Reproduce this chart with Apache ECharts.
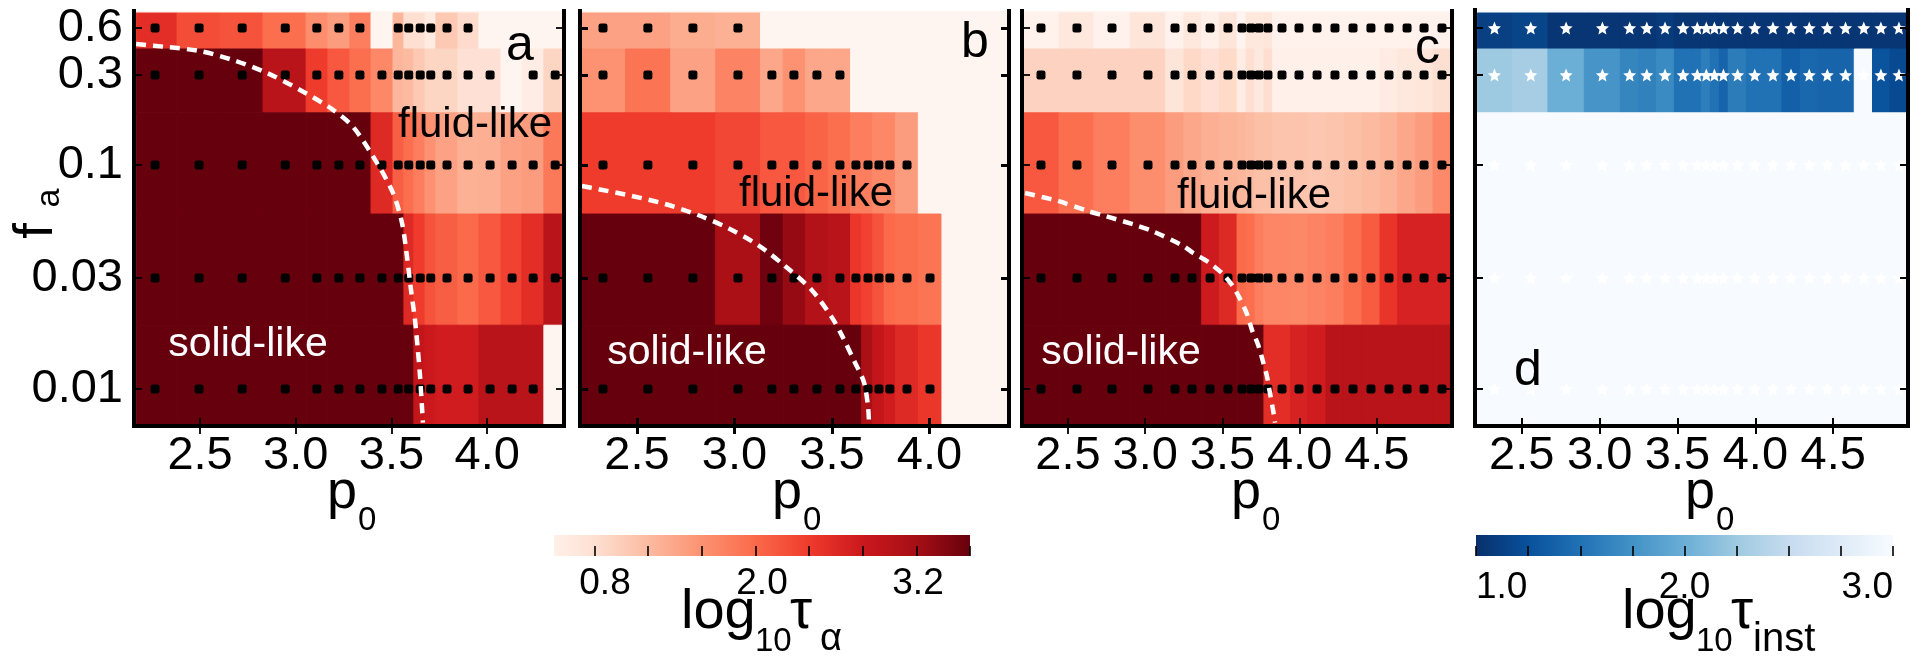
<!DOCTYPE html>
<html lang="en">
<head>
    <meta charset="UTF-8">
    <script src="https://cdn.jsdelivr.net/npm/echarts@6/dist/echarts.min.js"></script>
    <title>tau phase maps</title>
</head>
<style>
    body{
        margin: 0;
        padding: 0;
        background: #fff;
    }
</style>
<body>
<div id="main" style="width: 1924px;height:657px;"></div>
</body>
<script>
    var FONT = '"Liberation Sans"';

    // rows, top to bottom
    var faRows = [0.6, 0.3, 0.1, 0.03, 0.01];
    var faEdges = [0.75, 0.44, 0.189, 0.0593, 0.0188, 0.0071];
    var faTickLabels = ['0.6', '0.3', '0.1', '0.03', '0.01'];

    // fa axis is not a clean log scale in the figure, so it is warped piecewise
    var faScale = [0.0071, 0.01, 0.03, 0.1, 0.3, 0.6, 0.75];
    var faScalePos = [2, 37, 148, 261, 351, 398, 413];

    // panel a
    var p0EdgesA = [2.166, 2.38, 2.604, 2.829, 3.054, 3.168, 3.283, 3.393, 3.508, 3.565, 3.617, 3.675, 3.732, 3.847, 3.957, 4.072, 4.181, 4.296, 4.39];
    var p0DotsA = [2.265, 2.495, 2.72, 2.945, 3.11, 3.225, 3.335, 3.45, 3.535, 3.59, 3.65, 3.705, 3.79, 3.9, 4.015, 4.13, 4.24, 4.355];
    var tauA = [
        [2.55, 2.25, 2.2, 1.95, 1.65, 1.5, 1.8, 0.4, 1.25, 0.8, 0.8, 0.6, 1.05, 0.85, 0.4, 0.4, 0.4, 0.4],
        [3.6, 3.6, 3.6, 3.0, 2.4, 2.15, 1.95, 1.7, 1.25, 1.2, 1.05, 0.92, 0.92, 0.78, 0.78, 0.4, 0.55, 0.92],
        [3.6, 3.6, 3.6, 3.6, 3.6, 3.6, 3.6, 2.6, 2.1, 1.95, 1.8, 1.6, 1.45, 1.3, 1.32, 1.45, 1.5, 1.85],
        [3.6, 3.6, 3.6, 3.6, 3.6, 3.6, 3.6, 3.6, 3.6, 2.6, 2.4, 2.2, 2.1, 2.0, 2.15, 2.35, 2.55, 3.0],
        [3.6, 3.6, 3.6, 3.6, 3.6, 3.6, 3.6, 3.6, 3.6, 3.6, 2.9, 2.8, 2.75, 2.75, 3.0, 3.0, 3.0, 0.4]
    ];
    var boundaryP0A = [2.166, 2.328, 2.5, 2.672, 2.85, 3.022, 3.195, 3.3, 3.424, 3.508, 3.555, 3.581, 3.602, 3.623, 3.638, 3.649, 3.664];
    var boundaryFaA = [0.474, 0.453, 0.427, 0.374, 0.309, 0.25, 0.196, 0.159, 0.1026, 0.0742, 0.0539, 0.0376, 0.0266, 0.0197, 0.0146, 0.0114, 0.0072];

    // panel b
    var p0EdgesB = [2.216, 2.442, 2.673, 2.904, 3.134, 3.25, 3.365, 3.481, 3.596, 3.652, 3.71, 3.768, 3.827, 3.943, 4.059];
    var p0DotsB = [2.326, 2.556, 2.787, 3.018, 3.192, 3.305, 3.423, 3.541, 3.623, 3.685, 3.741, 3.797, 3.885, 4.003];
    var tauB = [
        [1.45, 1.45, 1.35, 1.3, 0.4, 0.4, 0.4, 0.4, 0.4, 0.4, 0.4, 0.4, 0.4, 0.4],
        [1.6, 1.9, 1.45, 1.75, 1.4, 1.6, 1.4, 1.4, 0.4, 0.4, 0.4, 0.4, 0.4, 0.4],
        [2.4, 2.4, 2.4, 2.3, 2.15, 2.15, 2.05, 1.95, 1.8, 1.8, 1.7, 1.7, 1.5, 0.4],
        [3.6, 3.6, 3.6, 3.15, 3.55, 3.3, 3.05, 3.0, 2.45, 2.35, 2.2, 2.0, 1.95, 1.9],
        [3.6, 3.6, 3.6, 3.6, 3.6, 3.6, 3.6, 3.6, 3.6, 3.15, 2.9, 2.75, 2.6, 2.45]
    ];
    var boundaryP0B = [2.218, 2.3, 2.474, 2.644, 2.813, 2.967, 3.121, 3.259, 3.397, 3.5, 3.551, 3.618, 3.664, 3.685, 3.69];
    var boundaryFaB = [0.0799, 0.0774, 0.0719, 0.066, 0.0587, 0.0511, 0.0426, 0.0341, 0.0266, 0.0203, 0.017, 0.013, 0.0107, 0.00844, 0.0072];

    // panel c, panel d sits on the same p0 grid
    var p0EdgesC = [2.215, 2.442, 2.668, 2.902, 3.133, 3.251, 3.366, 3.48, 3.595, 3.653, 3.711, 3.769, 3.826, 3.942, 4.054, 4.171, 4.288, 4.404, 4.521, 4.635, 4.752, 4.864, 4.974];
    var p0DotsC = [2.325, 2.558, 2.785, 3.018, 3.193, 3.303, 3.42, 3.536, 3.627, 3.685, 3.737, 3.795, 3.886, 3.996, 4.113, 4.229, 4.346, 4.462, 4.579, 4.696, 4.806, 4.922];
    var tauC = [
        [0.45, 0.65, 0.45, 0.7, 0.45, 0.65, 0.5, 0.7, 0.42, 0.65, 0.65, 0.68, 0.45, 0.45, 0.45, 0.45, 0.45, 0.45, 0.45, 0.45, 0.45, 0.45],
        [0.95, 0.95, 0.95, 0.95, 0.7, 0.88, 0.78, 0.87, 0.55, 0.8, 0.62, 0.82, 0.5, 0.5, 0.5, 0.5, 0.5, 0.5, 0.6, 0.65, 0.68, 0.8],
        [2.15, 1.95, 1.8, 1.65, 1.5, 1.4, 1.32, 1.27, 1.25, 1.2, 1.15, 1.15, 1.1, 1.1, 1.08, 1.1, 1.15, 1.2, 1.27, 1.4, 1.5, 1.68],
        [3.6, 3.6, 3.6, 3.6, 3.6, 3.6, 2.78, 2.6, 2.0, 1.95, 1.8, 1.72, 1.72, 1.7, 1.75, 1.8, 1.95, 2.12, 2.48, 2.68, 2.68, 2.68],
        [3.6, 3.6, 3.6, 3.6, 3.6, 3.6, 3.6, 3.6, 3.6, 3.6, 3.6, 2.55, 2.55, 2.68, 2.75, 3.0, 3.0, 3.0, 3.0, 3.0, 3.0, 3.0]
    ];
    var boundaryP0C = [2.222, 2.332, 2.435, 2.63, 2.74, 2.934, 3.044, 3.238, 3.31, 3.407, 3.497, 3.562, 3.614, 3.659, 3.692, 3.731, 3.763, 3.789, 3.808, 3.828, 3.841];
    var boundaryFaC = [0.0742, 0.0711, 0.0682, 0.0612, 0.0581, 0.0528, 0.0495, 0.0426, 0.0392, 0.0356, 0.0316, 0.028, 0.0244, 0.021, 0.0179, 0.0155, 0.0131, 0.0113, 0.0096, 0.00815, 0.0072];

    // panel d
    var tauInst = [
        [1.12, 1.15, 1.04, 1.04, 1.04, 1.04, 1.08, 1.04, 1.04, 1.04, 1.04, 1.04, 1.04, 1.04, 1.04, 1.04, 1.04, 1.04, 1.04, 1.04, 1.04, 1.04],
        [2.25, 2.3, 2.0, 1.78, 1.65, 1.62, 1.7, 1.5, 1.5, 1.6, 1.5, 1.4, 1.58, 1.5, 1.5, 1.37, 1.42, 1.4, 1.4, 3.0, 1.27, 1.2],
        [3, 3, 3, 3, 3, 3, 3, 3, 3, 3, 3, 3, 3, 3, 3, 3, 3, 3, 3, 3, 3, 3],
        [3, 3, 3, 3, 3, 3, 3, 3, 3, 3, 3, 3, 3, 3, 3, 3, 3, 3, 3, 3, 3, 3],
        [3, 3, 3, 3, 3, 3, 3, 3, 3, 3, 3, 3, 3, 3, 3, 3, 3, 3, 3, 3, 3, 3]
    ];

    var REDS = ['#fff5f0', '#fee0d2', '#fcbba1', '#fc9272', '#fb6a4a', '#ef3b2c', '#cb181d', '#a50f15', '#67000d'];
    var BLUES = ['#08306b', '#08519c', '#2171b5', '#4292c6', '#6baed6', '#9ecae1', '#c6dbef', '#deebf7', '#f7fbff'];
    var STAR = 'path://M0,-10L2.65,-3.64L9.51,-3.09L4.28,1.39L5.88,8.09L0,4.5L-5.88,8.09L-4.28,1.39L-9.51,-3.09L-2.65,-3.64Z';

    function yOf(f) {
        var lf = Math.log10(f);
        for (var i = 0; i < faScale.length - 1; i++) {
            var a = Math.log10(faScale[i]), b = Math.log10(faScale[i + 1]);
            if (lf <= b || i == faScale.length - 2) {
                return faScalePos[i] + (lf - a) / (b - a) * (faScalePos[i + 1] - faScalePos[i]);
            }
        }
    }

    function redColor(v) { return echarts.color.lerp((v - 0.4) / 3.2, REDS); }
    function blueColor(v) { return echarts.color.lerp((v - 1) / 2, BLUES); }

    var grids = [], xAxes = [], yAxes = [], series = [];

    function renderCell(params, api) {
        var p1 = api.coord([api.value(0), api.value(2)]);
        var p2 = api.coord([api.value(1), api.value(3)]);
        var c = api.value(4);
        var fill = params.seriesName == 'inst' ? blueColor(c) : redColor(c);
        return {
            type: 'rect',
            shape: {x: p1[0], y: p1[1], width: p2[0] - p1[0], height: p2[1] - p1[1]},
            style: {fill: fill, stroke: fill, lineWidth: 1}
        };
    }

    function addPanel(left, right, top, xMin, xMax, xTicks, tickWidth, showY, name, edges, dots, tau, bgColor) {
        var idx = grids.length, xi = xAxes.length, yi = yAxes.length;
        grids.push({left: left, width: right - left, top: top, height: 426 - top, show: true, backgroundColor: bgColor, borderWidth: 0});
        var tickPos = faTickLabels.map(function (s, i) { return yOf(faRows[i]); });
        var line = {show: true, lineStyle: {color: '#000', width: 4, cap: 'square'}};
        var tick = function (vals) {
            return {show: true, inside: true, length: 8, customValues: vals, lineStyle: {color: '#000', width: tickWidth}};
        };
        xAxes.push({
            type: 'value', gridIndex: idx, position: 'bottom', min: xMin, max: xMax, z: 10,
            axisLine: line, splitLine: {show: false}, axisTick: tick(xTicks),
            axisLabel: {
                show: true, margin: 7, customValues: xTicks, color: '#000', fontSize: 47, fontFamily: FONT,
                formatter: function (v) { return v.toFixed(1); }
            }
        });
        xAxes.push({
            type: 'value', gridIndex: idx, position: 'top', min: xMin, max: xMax, z: 10,
            axisLine: line, splitLine: {show: false}, axisTick: tick(xTicks), axisLabel: {show: false}
        });
        var ymax = 415 + (top == 11 ? 0 : 11 - top);
        yAxes.push({
            type: 'value', gridIndex: idx, position: 'left', min: 0, max: ymax, z: 10,
            axisLine: line, splitLine: {show: false}, axisTick: tick(tickPos),
            axisLabel: {
                show: showY, margin: 11, customValues: tickPos, color: '#000', fontSize: 47, fontFamily: FONT,
                formatter: function (v) {
                    for (var i = 0; i < tickPos.length; i++) {
                        if (Math.abs(tickPos[i] - v) < 0.01) return faTickLabels[i];
                    }
                    return '';
                }
            }
        });
        yAxes.push({
            type: 'value', gridIndex: idx, position: 'right', min: 0, max: ymax, z: 10,
            axisLine: line, splitLine: {show: false}, axisTick: tick(tickPos), axisLabel: {show: false}
        });

        var cells = [], marks = [];
        faRows.forEach(function (f, r) {
            tau[r].forEach(function (v, c) {
                cells.push([edges[c], edges[c + 1], yOf(faEdges[r]), yOf(faEdges[r + 1]), v]);
                if (name == 'inst' || v > 0.4) marks.push([dots[c], yOf(f)]);
            });
        });
        series.push({
            type: 'custom', name: name, xAxisIndex: xi, yAxisIndex: yi, z: 2, silent: true,
            renderItem: renderCell, data: cells, encode: {x: [0, 1], y: [2, 3]}
        });
        series.push({
            type: 'scatter', xAxisIndex: xi, yAxisIndex: yi, z: 3, silent: true,
            symbol: name == 'inst' ? STAR : 'roundRect',
            symbolSize: name == 'inst' ? 13 : 9,
            itemStyle: {color: name == 'inst' ? '#fff' : '#000', opacity: 1},
            data: marks
        });
        return {x: xi, y: yi};
    }

    function addBoundary(ax, p0s, fas) {
        series.push({
            type: 'line', xAxisIndex: ax.x, yAxisIndex: ax.y, z: 4, silent: true,
            showSymbol: false, smooth: 0.3,
            lineStyle: {color: '#fff', width: 4.5, type: [10, 7]},
            data: p0s.map(function (p, i) { return [p, yOf(fas[i])]; })
        });
    }

    function addColorbar(left, right, vMin, vMax, ticks, stops, labelEnds) {
        var idx = grids.length, xi = xAxes.length, yi = yAxes.length;
        grids.push({left: left, width: right - left, top: 535, height: 21});
        xAxes.push({
            type: 'value', gridIndex: idx, min: vMin, max: vMax, z: 10,
            axisLine: {show: false}, splitLine: {show: false},
            axisTick: {show: true, inside: true, length: 10, customValues: ticks, lineStyle: {color: '#000', width: 1.6}},
            axisLabel: labelEnds ? {
                show: true, margin: 13, customValues: labelEnds, color: '#000', fontSize: 37, fontFamily: FONT,
                alignMinLabel: 'left', alignMaxLabel: 'right',
                formatter: function (v) { return v.toFixed(1); }
            } : {show: false}
        });
        yAxes.push({type: 'value', gridIndex: idx, min: 0, max: 1, show: false});
        series.push({
            type: 'custom', xAxisIndex: xi, yAxisIndex: yi, z: 2, silent: true,
            encode: {x: [0, 1], y: [2, 3]},
            data: [[vMin, vMax, 0, 1]],
            renderItem: function (params, api) {
                var p1 = api.coord([api.value(0), api.value(3)]);
                var p2 = api.coord([api.value(1), api.value(2)]);
                return {
                    type: 'rect',
                    shape: {x: p1[0], y: p1[1], width: p2[0] - p1[0], height: p2[1] - p1[1]},
                    style: {fill: new echarts.graphic.LinearGradient(0, 0, 1, 0, stops)}
                };
            }
        });
    }

    var axA = addPanel(134, 564, 11, 2.155, 4.401, [2.5, 3, 3.5, 4], 1.8, true, 'a', p0EdgesA, p0DotsA, tauA, '#fff5f0');
    var axB = addPanel(580, 1009, 11, 2.208, 4.408, [2.5, 3, 3.5, 4], 3, false, 'b', p0EdgesB, p0DotsB, tauB, '#fff5f0');
    var axC = addPanel(1022, 1452, 11, 2.202, 4.987, [2.5, 3, 3.5, 4, 4.5], 1.8, false, 'c', p0EdgesC, p0DotsC, tauC, '#fff5f0');
    addPanel(1475, 1908, 10, 2.2, 4.98, [2.5, 3, 3.5, 4, 4.5], 2, false, 'inst', p0EdgesC, p0DotsC, tauInst, '#f7fbff');
    addBoundary(axA, boundaryP0A, boundaryFaA);
    addBoundary(axB, boundaryP0B, boundaryFaB);
    addBoundary(axC, boundaryP0C, boundaryFaC);

    // colour bars
    var redStops = [{offset: 0, color: redColor(0.5)}];
    REDS.forEach(function (c, i) {
        var v = 0.4 + 0.4 * i;
        if (v > 0.5) redStops.push({offset: (v - 0.5) / 3.1, color: c});
    });
    var blueStops = BLUES.map(function (c, i) { return {offset: i / 8, color: c}; });
    addColorbar(554, 970, 0.5, 3.6, [0.8, 1.2, 1.6, 2.0, 2.4, 2.8, 3.2, 3.6], redStops, null);
    addColorbar(1476, 1893, 1, 3, [1, 1.25, 1.5, 1.75, 2, 2.25, 2.5, 2.75, 3], blueStops, [1, 2, 3]);

    function txt(s, x, y, size, fill, align, rot) {
        return {
            type: 'text', x: x, y: y, rotation: rot || 0, z: 100, silent: true,
            style: {text: s, fill: fill || '#000', font: size + 'px ' + FONT, textAlign: align || 'left', textVerticalAlign: 'middle'}
        };
    }

    var texts = [
        txt('a', 506, 46, 50), txt('b', 961, 43, 50), txt('c', 1415, 49, 50), txt('d', 1514, 371, 50),
        txt('fluid-like', 475, 125, 42, '#000', 'center'),
        txt('fluid-like', 816, 194, 42, '#000', 'center'),
        txt('fluid-like', 1254, 196, 42, '#000', 'center'),
        txt('solid-like', 248, 345, 41, '#fff', 'center'),
        txt('solid-like', 687, 353, 41, '#fff', 'center'),
        txt('solid-like', 1121, 353, 41, '#fff', 'center'),
        txt('f', 37, 231, 56, '#000', 'center', Math.PI / 2),
        txt('a', 50, 198, 34, '#000', 'center', Math.PI / 2),
        txt('0.8', 605, 584, 37, '#000', 'center'),
        txt('2.0', 762, 584, 37, '#000', 'center'),
        txt('3.2', 918, 584, 37, '#000', 'center'),
        txt('log', 681, 613, 56), txt('10', 755, 642, 33), txt('\u03c4', 790, 613, 56), txt('\u03b1', 820, 640, 38),
        txt('log', 1622, 613, 56), txt('10', 1696, 642, 33), txt('\u03c4', 1731, 613, 56), txt('inst', 1753, 640, 40)
    ];
    [327, 772, 1231, 1685].forEach(function (x) {
        texts.push(txt('p', x, 493, 54));
        texts.push(txt('0', x + 31, 521, 33));
    });

    var chart = echarts.init(document.getElementById('main'));
    chart.setOption({
        animation: false,
        grid: grids,
        xAxis: xAxes,
        yAxis: yAxes,
        series: series,
        graphic: texts
    });
</script>
</html>
